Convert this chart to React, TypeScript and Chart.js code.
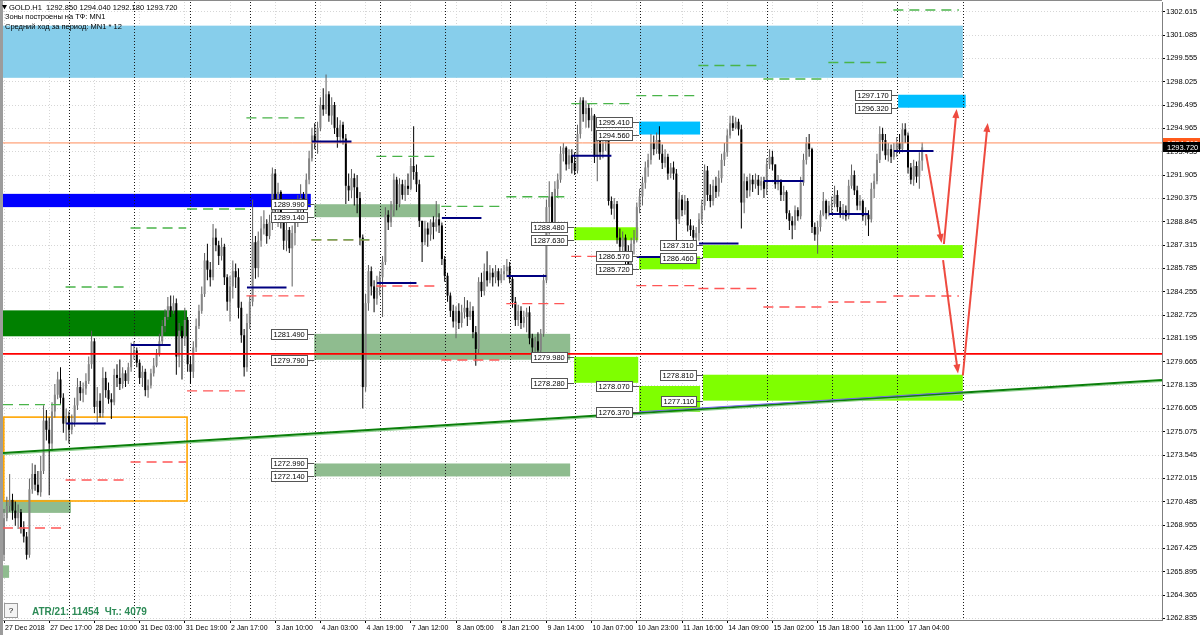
import React, { useEffect, useRef } from "react";
import { Chart, registerables } from "chart.js";

Chart.register(...registerables);

const FONT = "'Liberation Sans', Arial, sans-serif";

// ---------------- data ----------------
const firstOpen = 1267.0;

const closes = [
  // 27 Dec
  1269.4, 1270.2, 1270.6, 1269.9, 1269.4, 1269.8, 1268.8, 1268.2, 1267.0, 1271.3, 1272.3, 1271.6, 1271.1, 1272.5, 1275.8, 1275.2, 1274.3, 1276.4, 1277.5, 1278.5, 1277.3, 1275.6, 1276.1,
  // 28 Dec
  1275.2, 1275.7, 1276.8, 1278.0, 1277.6, 1277.9, 1278.4, 1279.5, 1281.0, 1276.7, 1277.1, 1276.3, 1278.6, 1277.8, 1277.2, 1277.0, 1278.8, 1278.6, 1278.2, 1278.9, 1278.4, 1279.3, 1280.2,
  // 31 Dec
  1280.4, 1279.6, 1278.6, 1279.0, 1277.8, 1278.1, 1278.9, 1279.4, 1280.2, 1281.0, 1282.0, 1282.6, 1283.3, 1283.0, 1283.5, 1280.0, 1281.7, 1281.2, 1282.4, 1279.5,
  // 2 Jan
  1279.0, 1280.6, 1282.0, 1283.0, 1284.1, 1286.3, 1285.7, 1285.2, 1287.8, 1287.3, 1286.6, 1287.2, 1285.2, 1283.6, 1284.6, 1285.6, 1285.2, 1283.2, 1281.4, 1279.3, 1282.2,
  // 3 Jan
  1283.6, 1287.5, 1285.8, 1287.6, 1288.4, 1288.7, 1287.9, 1288.8, 1292.0, 1289.6, 1290.8, 1288.9, 1287.6, 1288.3, 1287.1, 1288.1, 1288.8, 1289.6, 1290.4, 1289.8, 1291.6, 1293.0, 1294.5,
  // 4 Jan
  1294.1, 1295.0, 1296.5, 1296.2, 1297.2, 1295.8, 1296.5, 1295.0, 1294.4, 1295.2, 1294.3, 1291.2, 1290.9, 1291.7, 1291.1, 1290.4, 1287.8, 1278.0, 1283.5, 1285.6, 1284.6, 1283.8, 1284.5,
  // 7 Jan
  1285.2, 1286.2, 1289.3, 1288.8, 1289.6, 1291.6, 1290.0, 1291.3, 1290.6, 1291.2, 1291.0, 1292.5, 1292.1, 1291.3, 1288.9, 1287.5, 1288.4, 1288.0, 1288.8, 1288.5, 1289.0, 1288.6, 1286.4,
  // 8 Jan
  1285.3, 1284.0, 1283.0, 1282.3, 1283.0, 1282.2, 1282.9, 1283.2, 1282.6, 1283.0, 1281.6, 1280.5, 1284.9, 1284.3, 1285.6, 1285.0, 1285.5, 1285.2, 1285.6, 1285.0, 1285.4, 1285.6, 1285.9,
  // 9 Jan
  1285.1, 1283.6, 1282.4, 1283.0, 1282.2, 1282.6, 1282.9, 1281.2, 1280.6, 1281.0, 1280.4, 1281.5, 1285.0, 1289.8, 1290.5, 1288.6, 1291.0, 1291.6, 1293.3, 1293.7, 1292.6, 1293.2, 1292.7,
  // 10 Jan
  1292.2, 1294.6, 1296.8, 1295.9, 1296.3, 1295.5, 1295.8, 1293.1, 1294.2, 1293.4, 1294.0, 1294.4, 1290.2, 1289.7, 1290.0, 1287.8, 1287.2, 1287.8, 1286.6, 1286.0, 1287.4, 1287.8, 1289.8,
  // 11 Jan
  1290.5, 1291.4, 1292.4, 1292.9, 1294.0, 1293.6, 1294.2, 1293.3, 1292.7, 1293.1, 1292.0, 1292.4, 1292.0, 1289.0, 1290.3, 1289.6, 1290.2, 1288.6, 1288.3, 1287.8, 1288.1, 1289.0,
  // 14 Jan
  1289.9, 1292.2, 1290.6, 1290.2, 1291.2, 1290.8, 1291.7, 1292.9, 1293.4, 1294.5, 1295.3, 1295.0, 1295.4, 1294.9, 1290.1, 1291.5, 1290.9, 1291.6, 1291.3, 1291.6, 1291.2, 1291.5, 1291.0,
  // 15 Jan
  1292.6, 1293.1, 1292.6, 1291.3, 1291.6, 1290.6, 1290.8, 1289.4, 1288.9, 1288.6, 1289.6, 1289.2, 1291.4, 1292.9, 1294.0, 1293.6, 1288.5, 1288.0, 1288.5, 1289.3, 1290.2, 1289.4, 1289.9,
  // 16 Jan
  1290.0, 1290.6, 1289.8, 1289.4, 1289.6, 1289.2, 1291.2, 1291.9, 1290.9, 1289.9, 1290.2, 1289.2, 1289.3, 1289.0, 1291.0, 1291.5, 1292.9, 1294.6, 1294.2, 1293.2, 1293.6, 1293.1, 1293.5,
  // 17 Jan
  1294.0, 1293.6, 1294.9, 1294.5, 1292.4, 1291.6, 1292.5, 1291.8, 1292.85, 1293.72,
];

const highs = [
  1270.0, 1270.8, 1272.3, 1271.0, 1270.5, 1270.3, 1270.0, 1269.2, 1268.5, 1272.0, 1273.0, 1272.9, 1272.5, 1273.5, 1276.8, 1276.5, 1276.0, 1277.0, 1278.2, 1279.0, 1279.3, 1277.6, 1276.6,
  1276.4, 1276.2, 1277.3, 1278.6, 1278.4, 1278.3, 1278.9, 1280.0, 1281.7, 1281.2, 1278.0, 1277.6, 1279.3, 1279.0, 1278.3, 1277.6, 1279.2, 1279.5, 1279.8, 1279.3, 1279.1, 1279.6, 1280.9,
  1281.0, 1280.6, 1279.8, 1279.4, 1279.2, 1278.5, 1279.2, 1279.9, 1280.5, 1281.5, 1282.4, 1283.1, 1283.9, 1284.0, 1284.0, 1283.8, 1282.2, 1282.0, 1283.2, 1282.6,
  1280.0, 1281.0, 1282.5, 1283.4, 1284.6, 1286.8, 1287.4, 1286.2, 1288.7, 1288.4, 1287.6, 1287.8, 1287.4, 1285.4, 1285.3, 1286.3, 1286.1, 1285.8, 1283.6, 1281.8, 1282.8,
  1284.0, 1290.3, 1287.9, 1288.2, 1289.2, 1289.6, 1289.0, 1289.3, 1292.4, 1292.3, 1291.4, 1290.9, 1289.3, 1288.8, 1288.5, 1288.6, 1289.5, 1290.6, 1291.3, 1290.8, 1292.0, 1293.5, 1295.0,
  1295.3, 1295.4, 1297.0, 1297.6, 1298.5, 1297.4, 1297.0, 1296.7, 1295.7, 1295.5, 1295.4, 1294.6, 1292.0, 1292.3, 1292.0, 1291.9, 1290.8, 1288.0, 1284.1, 1286.0, 1285.9, 1285.0, 1285.3,
  1285.6, 1286.6, 1289.8, 1289.6, 1290.2, 1292.0, 1291.8, 1291.7, 1291.6, 1291.6, 1292.0, 1293.0, 1295.1, 1292.6, 1291.6, 1288.9, 1288.9, 1288.8, 1289.0, 1289.2, 1290.2, 1289.4, 1288.8,
  1286.6, 1285.5, 1284.2, 1283.4, 1283.3, 1283.5, 1283.4, 1283.9, 1283.7, 1283.6, 1283.3, 1282.0, 1285.2, 1285.5, 1286.1, 1286.9, 1286.0, 1285.8, 1286.0, 1285.8, 1285.8, 1286.0, 1286.4,
  1286.2, 1285.3, 1283.9, 1283.4, 1283.3, 1283.0, 1283.2, 1283.3, 1281.5, 1281.3, 1281.6, 1281.8, 1285.4, 1290.3, 1291.5, 1290.8, 1291.5, 1292.0, 1293.8, 1294.0, 1293.8, 1293.6, 1293.6,
  1293.4, 1295.2, 1297.0, 1297.0, 1296.8, 1296.6, 1296.3, 1295.9, 1294.6, 1294.8, 1294.4, 1294.8, 1294.6, 1290.5, 1290.4, 1290.2, 1288.4, 1288.2, 1288.0, 1287.3, 1287.8, 1288.3, 1290.1,
  1291.0, 1291.8, 1292.8, 1293.3, 1294.6, 1294.5, 1294.7, 1295.1, 1293.9, 1293.6, 1293.3, 1292.7, 1292.8, 1292.3, 1290.8, 1290.6, 1290.6, 1290.4, 1289.0, 1288.6, 1288.5, 1289.4,
  1290.3, 1292.6, 1292.5, 1291.3, 1291.6, 1291.8, 1292.2, 1293.3, 1294.0, 1294.9, 1295.8, 1295.8, 1295.7, 1295.6, 1295.2, 1292.0, 1291.8, 1292.0, 1291.9, 1292.0, 1291.9, 1291.8, 1291.8,
  1293.0, 1293.6, 1293.5, 1292.6, 1291.9, 1291.6, 1291.2, 1290.9, 1289.6, 1289.2, 1289.9, 1289.8, 1291.8, 1293.3, 1294.4, 1294.6, 1293.7, 1288.8, 1288.9, 1289.6, 1290.8, 1290.3, 1290.2,
  1290.5, 1291.2, 1290.9, 1290.2, 1290.0, 1289.9, 1291.6, 1292.6, 1292.2, 1291.2, 1290.6, 1290.3, 1289.8, 1289.6, 1291.4, 1292.0, 1293.3, 1295.1, 1295.0, 1294.6, 1294.0, 1293.9, 1294.0,
  1294.4, 1294.6, 1295.3, 1295.3, 1294.7, 1292.7, 1292.9, 1292.8, 1293.4, 1294.04,
];

const lows = [
  1266.6, 1269.2, 1269.8, 1269.3, 1268.9, 1268.7, 1268.4, 1267.8, 1266.7, 1266.8, 1271.0, 1271.2, 1270.9, 1270.8, 1272.3, 1274.5, 1270.9, 1273.8, 1276.0, 1277.2, 1276.9, 1275.0, 1274.5,
  1274.3, 1274.9, 1275.4, 1276.5, 1277.1, 1277.0, 1277.5, 1278.2, 1279.2, 1276.3, 1275.7, 1276.0, 1276.0, 1277.3, 1276.9, 1275.9, 1276.8, 1278.0, 1277.8, 1277.9, 1278.0, 1278.2, 1279.0,
  1279.8, 1279.3, 1278.2, 1278.0, 1277.4, 1277.3, 1277.9, 1278.7, 1279.3, 1280.0, 1280.8, 1281.6, 1282.4, 1282.6, 1282.8, 1278.8, 1279.3, 1278.5, 1280.7, 1279.0,
  1278.2, 1278.6, 1280.3, 1281.8, 1282.8, 1283.9, 1285.0, 1284.6, 1285.0, 1286.9, 1286.0, 1286.3, 1284.7, 1283.0, 1282.3, 1283.8, 1284.5, 1282.5, 1280.9, 1278.7, 1279.0,
  1281.8, 1283.3, 1285.1, 1285.2, 1287.2, 1288.0, 1287.4, 1287.7, 1288.3, 1289.0, 1288.5, 1288.4, 1287.0, 1286.9, 1286.8, 1284.6, 1287.3, 1288.5, 1289.0, 1289.0, 1289.6, 1291.3, 1292.8,
  1293.6, 1293.3, 1294.8, 1295.8, 1295.9, 1295.4, 1295.2, 1294.6, 1293.7, 1294.0, 1293.9, 1290.0, 1290.2, 1290.4, 1289.9, 1289.4, 1287.3, 1276.6, 1277.7, 1283.0, 1284.0, 1282.9, 1283.4,
  1284.0, 1282.6, 1286.0, 1288.3, 1288.5, 1289.2, 1289.6, 1289.8, 1290.3, 1290.2, 1290.6, 1290.9, 1291.6, 1290.8, 1288.5, 1286.2, 1287.3, 1287.2, 1287.6, 1287.7, 1288.2, 1288.1, 1286.0,
  1284.9, 1283.6, 1282.6, 1281.9, 1281.2, 1281.8, 1281.9, 1282.5, 1282.0, 1282.4, 1281.2, 1279.4, 1280.2, 1283.9, 1284.0, 1284.6, 1284.8, 1284.6, 1284.8, 1284.6, 1284.8, 1285.0, 1285.2,
  1284.8, 1283.2, 1282.0, 1282.0, 1281.8, 1281.9, 1281.6, 1280.8, 1280.2, 1280.0, 1280.0, 1280.2, 1281.3, 1284.8, 1288.0, 1288.2, 1288.4, 1290.4, 1291.4, 1292.8, 1292.2, 1292.3, 1292.0,
  1291.9, 1292.0, 1294.3, 1295.4, 1295.0, 1295.0, 1294.8, 1292.7, 1291.5, 1292.9, 1293.0, 1293.5, 1289.9, 1289.3, 1289.0, 1287.4, 1286.8, 1286.9, 1285.9, 1285.7, 1285.9, 1286.7, 1287.5,
  1289.4, 1289.9, 1291.0, 1291.8, 1292.6, 1293.2, 1293.3, 1292.9, 1292.3, 1292.4, 1291.6, 1291.7, 1291.6, 1287.3, 1288.7, 1289.2, 1289.3, 1288.2, 1287.9, 1287.4, 1287.4, 1287.6,
  1288.7, 1289.6, 1290.2, 1289.8, 1289.9, 1290.4, 1290.5, 1291.4, 1292.5, 1293.1, 1294.3, 1294.8, 1294.9, 1294.5, 1288.4, 1289.4, 1290.4, 1290.5, 1290.8, 1291.0, 1290.6, 1290.9, 1290.4,
  1290.6, 1292.3, 1292.2, 1291.0, 1290.9, 1290.2, 1290.2, 1289.0, 1288.3, 1287.7, 1288.3, 1288.9, 1289.0, 1291.2, 1292.6, 1293.1, 1288.1, 1287.6, 1286.75, 1288.2, 1289.2, 1289.0, 1289.2,
  1289.3, 1289.8, 1289.5, 1289.1, 1289.0, 1288.9, 1289.0, 1291.0, 1290.6, 1289.6, 1289.6, 1288.9, 1288.6, 1287.9, 1288.8, 1290.4, 1291.3, 1292.7, 1293.5, 1292.9, 1292.8, 1292.7, 1292.9,
  1293.1, 1293.3, 1293.4, 1294.0, 1292.0, 1291.3, 1291.2, 1291.4, 1291.0, 1292.18,
];

const xTickBars = [0, 16, 32, 48, 64, 80, 96, 112, 128, 144, 160, 176, 192, 208, 224, 240, 256, 272, 288, 304, 320];
const xTickLabels = [
  "27 Dec 2018", "27 Dec 17:00", "28 Dec 10:00", "31 Dec 03:00", "31 Dec 19:00", "2 Jan 17:00", "3 Jan 10:00",
  "4 Jan 03:00", "4 Jan 19:00", "7 Jan 12:00", "8 Jan 05:00", "8 Jan 21:00", "9 Jan 14:00", "10 Jan 07:00",
  "10 Jan 23:00", "11 Jan 16:00", "14 Jan 09:00", "15 Jan 02:00", "15 Jan 18:00", "16 Jan 11:00", "17 Jan 04:00",
];
const priceTicks = [
  1262.835, 1264.365, 1265.895, 1267.425, 1268.955, 1270.485, 1272.015, 1273.545, 1275.075, 1276.605,
  1278.135, 1279.665, 1281.195, 1282.725, 1284.255, 1285.785, 1287.315, 1288.845, 1290.375, 1291.905,
  1293.435, 1294.965, 1296.495, 1298.025, 1299.555, 1301.085, 1302.615,
];

// day separators (bar index of first bar of each new day)
const daySeparators = [23, 46, 66, 87, 110, 133, 156, 179, 202, 225, 247, 270, 293, 316, 339.5];
// per day projected levels
const greenLevels = [1276.85, 1284.56, 1288.43, 1289.68, 1295.65, 1287.65, 1293.13, 1289.85, 1290.48, 1296.59, 1297.11, 1299.09, 1298.2, 1299.28, 1302.73];
const redLevels = [1268.76, 1271.91, 1273.09, 1277.75, 1283.98, 1287.65, 1284.63, 1279.78, 1283.47, 1286.57, 1284.65, 1284.46, 1283.25, 1283.58, 1283.97];
const openLevels = [null, 1275.61, 1280.76, null, 1284.53, 1294.11, 1284.82, 1289.09, 1285.28, 1293.17, 1286.53, 1287.41, 1291.51, 1289.35, 1293.48];

// zones: [startBar, endBar, topPrice, bottomPrice, kind, labelled]
const zones: [number, number, number, number, string, boolean][] = [
  [-0.354, 339.4, 1301.7, 1298.28, "sky", false],
  [-0.354, 108.6, 1290.67, 1289.8, "blue", false],
  [-0.354, 64.8, 1283.03, 1281.33, "dark", false],
  [-0.354, 23.7, 1270.6, 1269.75, "sage", false],
  [-0.354, 1.8, 1266.31, 1265.49, "sage", false],
  [109.8, 154.3, 1289.99, 1289.14, "sage", true],
  [109.8, 200.4, 1281.49, 1279.79, "sage", true],
  [109.8, 200.4, 1272.99, 1272.14, "sage", true],
  [201.8, 224.5, 1288.48, 1287.63, "lime", true],
  [201.8, 224.5, 1279.98, 1278.28, "lime", true],
  [224.8, 246.4, 1286.57, 1285.72, "lime", true],
  [224.8, 246.4, 1278.07, 1276.37, "lime", true],
  [247.4, 339.4, 1287.31, 1286.46, "lime", true],
  [247.4, 339.4, 1278.81, 1277.11, "lime", true],
  [224.8, 246.4, 1295.41, 1294.56, "cyan", true],
  [316.5, 340.4, 1297.17, 1296.32, "cyan", true],
];
const orangeBox = [-0.354, 64.8, 1276.03, 1270.53];

const trendPoints = [
  { x: -0.354, y: 1273.68 },
  { x: 409.9, y: 1278.47 },
];
const lowerTrendPoints = [
  { x: 224.8, y: 1276.38 },
  { x: 339.5, y: 1277.7 },
];
const orangeLevel = 1294.01;
const redLevel = 1280.18;

// arrows: [fromBar, fromPrice, toBar, toPrice]
const arrows = [
  [326.4, 1293.28, 331.9, 1287.45],
  [332.7, 1287.38, 337.2, 1296.23],
  [332.4, 1286.33, 337.7, 1278.89],
  [339.4, 1278.76, 348.2, 1295.32],
];

const headerLines = ["Зоны построены на ТФ: MN1", "Средний ход за период: MN1 * 12"];
const atrText = "ATR/21: 11454  Чт.: 4079";
const symbolName = "GOLD.H1";

// ---------------- scale ranges ----------------
const X_MIN = -0.354;
const X_MAX = 409.9;
const Y_MIN = 1262.726;
const Y_MAX = 1303.251;

const ZONE_COLORS: Record<string, string> = {
  sky: "#87ceeb",
  blue: "#0000ff",
  dark: "#008000",
  sage: "#8fbc8f",
  lime: "#7fff00",
  cyan: "#00bfff",
};

const N = closes.length;
const opens = closes.map((c, i) => (i === 0 ? firstOpen : closes[i - 1]));

function buildDatasets() {
  const wick = closes.map((c, i) => ({
    x: i,
    y: [Math.min(lows[i], opens[i], c), Math.max(highs[i], opens[i], c)],
  }));
  const body = closes.map((c, i) => ({ x: i, y: [Math.min(opens[i], c), Math.max(opens[i], c)] }));
  const isUp = closes.map((c, i) => c >= opens[i]);
  const ds: any[] = [
    {
      type: "bar",
      data: wick,
      backgroundColor: isUp.map((u) => (u ? "#5e5e5e" : "#000000")),
      maxBarThickness: 1,
      grouped: false,
      borderWidth: 0,
      minBarLength: 1,
      order: 30,
    },
    {
      type: "bar",
      data: body,
      backgroundColor: isUp.map((u) => (u ? "#858585" : "#000000")),
      maxBarThickness: 2,
      grouped: false,
      borderWidth: 0,
      minBarLength: 1,
      order: 29,
    },
  ];
  const line = (data: any[], color: string, width: number, dash: number[] | undefined, order: number) => ({
    type: "line",
    data,
    borderColor: color,
    borderWidth: width,
    borderDash: dash || [],
    pointRadius: 0,
    fill: false,
    tension: 0,
    order,
  });
  for (let k = 0; k < daySeparators.length; k++) {
    const start = k === 0 ? X_MIN : daySeparators[k - 1];
    const end = daySeparators[k];
    const s0 = k === 0 ? X_MIN : start - 1.2;
    ds.push(line([{ x: s0, y: greenLevels[k] }, { x: end - 1.5, y: greenLevels[k] }], "#49b449", 1.4, [10, 6], 6));
    ds.push(line([{ x: s0, y: redLevels[k] }, { x: end - 1.5, y: redLevels[k] }], "#ff5656", 1.4, [10, 6], 6));
    const o = openLevels[k];
    if (o !== null) {
      ds.push(line([{ x: start - 1, y: o }, { x: start + 13, y: o }], "#000080", 2, undefined, 2));
    }
  }
  ds.push(line([{ x: X_MIN, y: orangeLevel }, { x: X_MAX, y: orangeLevel }], "#ff8c5a", 1, undefined, 4));
  ds.push(line([{ x: X_MIN, y: redLevel }, { x: X_MAX, y: redLevel }], "#ff0000", 1.8, undefined, 4));
  ds.push(line(trendPoints, "#0a7f0a", 2, undefined, 3));
  ds.push(line(lowerTrendPoints, "#7b68ee", 1, undefined, 2));
  return ds;
}

function drawArrow(ctx: CanvasRenderingContext2D, x1: number, y1: number, x2: number, y2: number) {
  const ang = Math.atan2(y2 - y1, x2 - x1);
  const L = 9;
  const W = 3.5;
  ctx.strokeStyle = "#ee4a3f";
  ctx.fillStyle = "#ee4a3f";
  ctx.lineWidth = 2;
  ctx.setLineDash([]);
  ctx.beginPath();
  ctx.moveTo(x1, y1);
  ctx.lineTo(x2 - Math.cos(ang) * 4, y2 - Math.sin(ang) * 4);
  ctx.stroke();
  const c = Math.cos(ang);
  const s = Math.sin(ang);
  ctx.beginPath();
  ctx.moveTo(x2, y2);
  ctx.lineTo(x2 - L * c + W * s, y2 - L * s - W * c);
  ctx.lineTo(x2 - L * c - W * s, y2 - L * s + W * c);
  ctx.closePath();
  ctx.fill();
}

function drawPriceTag(ctx: CanvasRenderingContext2D, zoneLeft: number, py: number, text: string) {
  ctx.font = `7.5px ${FONT}`;
  const w = Math.ceil(ctx.measureText(text).width) + 4;
  const h = 10;
  const right = Math.round(zoneLeft) - 7;
  const bx = right - w;
  const by = Math.round(py - h / 2);
  ctx.fillStyle = "#ffffff";
  ctx.fillRect(bx, by, w, h);
  ctx.strokeStyle = "#555555";
  ctx.lineWidth = 1;
  ctx.setLineDash([]);
  ctx.strokeRect(bx + 0.5, by + 0.5, w, h);
  ctx.beginPath();
  ctx.moveTo(right + 0.5, Math.round(py) + 0.5);
  ctx.lineTo(zoneLeft, Math.round(py) + 0.5);
  ctx.stroke();
  ctx.fillStyle = "#000000";
  ctx.textBaseline = "middle";
  ctx.textAlign = "left";
  ctx.fillText(text, bx + 2.5, by + h / 2 + 0.5);
}

const overlayPlugin = {
  id: "mtOverlay",
  beforeDatasetsDraw(chart: any) {
    const { ctx, chartArea: a, scales } = chart;
    const xs = scales.x;
    const ys = scales.y;
    ctx.save();
    ctx.beginPath();
    ctx.rect(a.left, a.top, a.right - a.left, a.bottom - a.top);
    ctx.clip();
    for (const z of zones) {
      const x0 = xs.getPixelForValue(z[0]);
      const x1 = xs.getPixelForValue(z[1]);
      const y0 = ys.getPixelForValue(z[2]);
      const y1 = ys.getPixelForValue(z[3]);
      ctx.fillStyle = ZONE_COLORS[z[4]];
      ctx.fillRect(x0, y0, x1 - x0, y1 - y0);
    }
    // orange frame
    {
      const x0 = xs.getPixelForValue(orangeBox[0]);
      const x1 = xs.getPixelForValue(orangeBox[1]);
      const y0 = ys.getPixelForValue(orangeBox[2]);
      const y1 = ys.getPixelForValue(orangeBox[3]);
      ctx.strokeStyle = "#ffa500";
      ctx.lineWidth = 1.6;
      ctx.strokeRect(x0 + 0.8, y0, x1 - x0 - 0.8, y1 - y0);
    }
    // day separators (dotted)
    ctx.strokeStyle = "#1a1a1a";
    ctx.lineWidth = 1;
    ctx.setLineDash([1, 2]);
    for (const s of daySeparators) {
      const px = Math.round(xs.getPixelForValue(s)) + 0.5;
      ctx.beginPath();
      ctx.moveTo(px, a.top);
      ctx.lineTo(px, a.bottom);
      ctx.stroke();
    }
    ctx.setLineDash([]);
    // soft trend shadow
    ctx.strokeStyle = "#8fd08f";
    ctx.lineWidth = 1.2;
    ctx.beginPath();
    ctx.moveTo(xs.getPixelForValue(trendPoints[0].x), ys.getPixelForValue(trendPoints[0].y) + 1.6);
    ctx.lineTo(xs.getPixelForValue(trendPoints[1].x), ys.getPixelForValue(trendPoints[1].y) + 1.6);
    ctx.stroke();
    ctx.restore();
  },
  afterDatasetsDraw(chart: any) {
    const { ctx, scales } = chart;
    const xs = scales.x;
    const ys = scales.y;
    ctx.save();
    for (const z of zones) {
      if (!z[5]) continue;
      const x0 = xs.getPixelForValue(z[0]);
      drawPriceTag(ctx, x0, ys.getPixelForValue(z[2]), z[2].toFixed(3));
      drawPriceTag(ctx, x0, ys.getPixelForValue(z[3]), z[3].toFixed(3));
    }
    for (const ar of arrows) {
      drawArrow(
        ctx,
        xs.getPixelForValue(ar[0]),
        ys.getPixelForValue(ar[1]),
        xs.getPixelForValue(ar[2]),
        ys.getPixelForValue(ar[3])
      );
    }
    ctx.restore();
  },
  afterDraw(chart: any) {
    const { ctx, chartArea: a, scales } = chart;
    const ys = scales.y;
    ctx.save();
    // frame
    ctx.fillStyle = "#9c9c9c";
    ctx.fillRect(0, 0, 3, 635);
    ctx.fillStyle = "#8a8a8a";
    ctx.fillRect(0, 0, a.right, 1);

    // header text
    ctx.fillStyle = "#000";
    ctx.beginPath();
    ctx.moveTo(2, 5);
    ctx.lineTo(7, 5);
    ctx.lineTo(4.5, 9.5);
    ctx.closePath();
    ctx.fill();
    ctx.font = `7.5px ${FONT}`;
    ctx.textBaseline = "middle";
    ctx.textAlign = "left";
    const last = N - 1;
    const hdr = `${symbolName}  ${opens[last].toFixed(3)} ${highs[last].toFixed(3)} ${lows[last].toFixed(3)} ${closes[last].toFixed(3)}`;
    ctx.fillText(hdr, 9, 7.5);
    ctx.fillText(headerLines[0], 5, 17);
    ctx.fillText(headerLines[1], 5, 26.5);

    // bottom-left info
    ctx.fillStyle = "#f4f4f4";
    ctx.fillRect(4, 603, 14, 15);
    ctx.strokeStyle = "#9a9a9a";
    ctx.lineWidth = 1;
    ctx.strokeRect(4.5, 603.5, 13, 14);
    ctx.fillStyle = "#000";
    ctx.font = `8px ${FONT}`;
    ctx.textAlign = "center";
    ctx.fillText("?", 11, 611);
    ctx.textAlign = "left";
    ctx.font = `bold 10px ${FONT}`;
    ctx.fillStyle = "#2e8b57";
    ctx.fillText(atrText, 32, 612);

    // price boxes on the axis
    ctx.font = `7.5px ${FONT}`;
    const yo = Math.round(ys.getPixelForValue(orangeLevel));
    ctx.fillStyle = "#ff5a1a";
    ctx.fillRect(a.right + 1, yo - 5, 37, 10);
    ctx.fillStyle = "#ffffff";
    ctx.fillText(orangeLevel.toFixed(3), a.right + 5, yo + 0.5);
    const yb = Math.round(ys.getPixelForValue(closes[last]));
    ctx.fillStyle = "#000000";
    ctx.fillRect(a.right + 1, yb - 5, 37, 10);
    ctx.fillStyle = "#ffffff";
    ctx.fillText(closes[last].toFixed(3), a.right + 5, yb + 0.5);
    ctx.restore();
  },
};

export default function App() {
  const ref = useRef<HTMLCanvasElement | null>(null);
  useEffect(() => {
    document.body.style.margin = "0";
    Chart.defaults.font.family = FONT;
    const canvas = ref.current;
    if (!canvas) return;
    const chart = new Chart(canvas, {
      type: "bar",
      data: { datasets: buildDatasets() },
      options: {
        responsive: false,
        animation: false,
        devicePixelRatio: 1,
        events: [],
        layout: { padding: { left: 3, top: 2, right: 0, bottom: 0 } },
        plugins: {
          legend: { display: false },
          tooltip: { enabled: false },
        },
        scales: {
          x: {
            type: "linear",
            position: "bottom",
            min: X_MIN,
            max: X_MAX,
            offset: false,
            afterBuildTicks: (s: any) => {
              s.ticks = xTickBars.map((v) => ({ value: v }));
            },
            afterFit: (s: any) => {
              s.height = 15;
              s.paddingLeft = 0;
              s.paddingRight = 0;
            },
            ticks: {
              autoSkip: false,
              maxRotation: 0,
              minRotation: 0,
              align: "start",
              labelOffset: 1,
              padding: 1,
              color: "#000",
              font: { family: FONT, size: 7 },
              callback: (v: any) => {
                const i = xTickBars.indexOf(Number(v));
                return i >= 0 ? xTickLabels[i] : "";
              },
            },
            grid: {
              offset: false,
              color: "#d6d6d6",
              lineWidth: 1,
              drawTicks: true,
              tickLength: 3,
              tickColor: "#000",
              tickBorderDash: [],
            },
            border: { display: true, color: "#7f7f7f", width: 1, dash: [1, 2] },
          },
          y: {
            type: "linear",
            position: "right",
            min: Y_MIN,
            max: Y_MAX,
            afterBuildTicks: (s: any) => {
              s.ticks = priceTicks.map((v) => ({ value: v }));
            },
            afterFit: (s: any) => {
              s.width = 38;
              s.paddingTop = 0;
              s.paddingBottom = 0;
            },
            ticks: {
              autoSkip: false,
              padding: 1,
              color: "#000",
              font: { family: FONT, size: 7.5 },
              callback: (v: any) => Number(v).toFixed(3),
            },
            grid: {
              color: "#d6d6d6",
              lineWidth: 1,
              drawTicks: true,
              tickLength: 3,
              tickColor: "#000",
              tickBorderDash: [],
            },
            border: { display: true, color: "#7f7f7f", width: 1, dash: [1, 2] },
          },
        },
      } as any,
      plugins: [overlayPlugin as any],
    } as any);
    return () => chart.destroy();
  }, []);
  return (
    <div style={{ position: "relative", width: 1200, height: 635, background: "#ffffff" }}>
      <canvas ref={ref} width={1200} height={635} style={{ display: "block" }} />
    </div>
  );
}
